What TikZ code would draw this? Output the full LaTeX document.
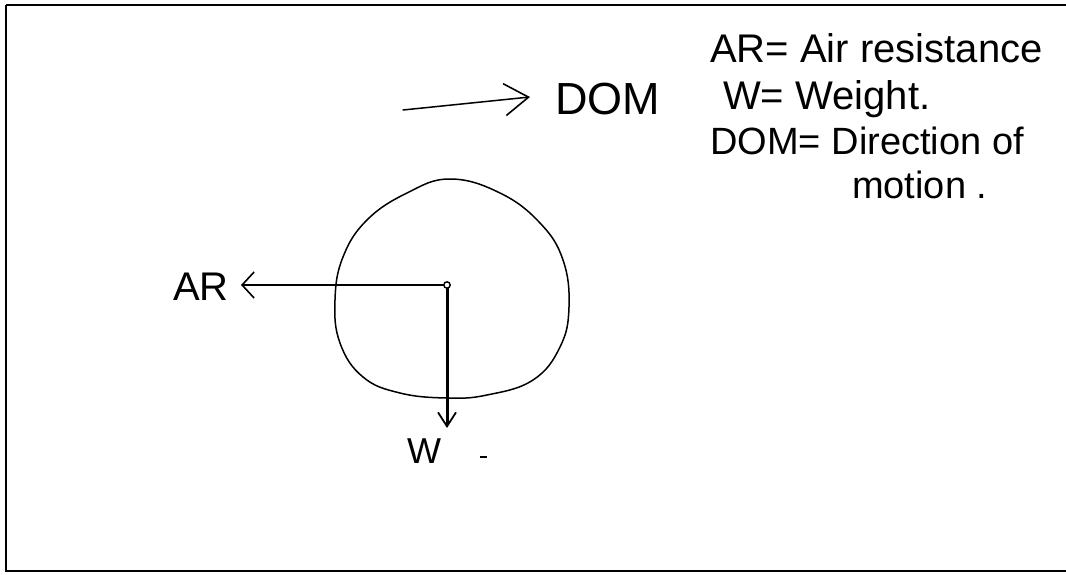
\documentclass[tikz,border=0pt]{standalone}
\usepackage{fontspec}
\setmainfont{Liberation Sans}
\usetikzlibrary{arrows.meta}
\begin{document}
\begin{tikzpicture}[x=1pt,y=-1pt,
  lbl/.style={inner sep=0pt,anchor=base west,font=\fontsize{40}{48}\selectfont},
  small/.style={font=\fontsize{38}{44}\selectfont},
  barb/.style={-{Straight Barb[length=12pt,width=26pt,line width=1.6pt]}, line width=1.6pt},
  stroke/.style={line width=1.5pt,line cap=round,line join=round}]
\useasboundingbox (0,0) rectangle (1066,575);
\fill[white] (0,0) rectangle (1066,575);
% frame
\draw[line width=2pt] (6,5) -- (1072,5) (6,5) -- (6,571) -- (1072,571);
% legend
\node[lbl] (l1) at (710,63) {AR= Air resistance};
\node[lbl] (l2) at (723,110) {W= Weight.};
\node[lbl,small] (l3) at (710,155) {DOM= Direction of};
\node[lbl,small] (l4) at (852,198) {motion .};
% direction of motion
\node[lbl,font=\fontsize{45}{54}\selectfont] (dom) at (555,115) {DOM};
\coordinate (domstart) at (403,110);
\coordinate (domtip) at (530,97);
\draw[stroke,-{Straight Barb[length=24pt,width=32pt,line width=1.6pt]}] (domstart) -- (domtip);
% ball
\draw[stroke] plot[smooth cycle,tension=0.7] coordinates {
 (450,179) (500,193) (540,223) (563,260) (569,307) (560,347) (533,380)
 (487,395) (447,398) (400,393) (363,377) (340,343) (335,300) (343,257)
 (367,220) (407,193)};
% centre point
\coordinate (c) at (447,285);
\coordinate (artip) at (241,285);
\coordinate (wtip) at (447,428);
\draw[barb] (c) -- (artip);
\draw[line width=3pt,-{Straight Barb[length=14pt,width=18pt,line width=1.8pt]}] (c) -- (wtip);
\draw[line width=1.4pt,fill=white] (c) circle (3.2pt);
% labels
\node[lbl] (ar) at (173,300) {AR};
\node[lbl,font=\fontsize{36}{43}\selectfont] (w) at (407,463) {W};
\coordinate (d1) at (480,457);
\coordinate (d2) at (487,457);
\draw[line width=2pt] (d1) -- (d2);
\end{tikzpicture}
\end{document}
